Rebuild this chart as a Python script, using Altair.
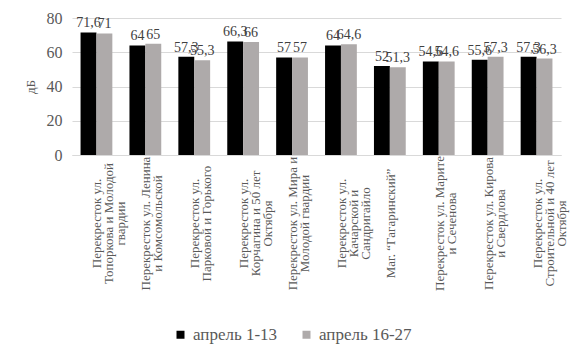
import altair as alt
import pandas as pd

categories = [
    "Перекресток ул.|Топоркова и Молодой|гвардии",
    "Перекресток ул. Ленина|и Комсомольской",
    "Перекресток ул.|Парковой и Горького",
    "Перекресток ул.|Корчагина и 50 лет|Октября",
    "Перекресток ул. Мира и|Молодой гвардии",
    "Перекресток ул.|Качарской и|Сандригайло",
    "Маг. \u201cГагаринский\u201d",
    "Перекресток ул. Марите|и Сеченова",
    "Перекресток ул. Кирова|и Свердлова",
    "Перекресток ул.|Строительной и 40 лет|Октября",
]
series_names = ["апрель 1-13", "апрель 16-27"]
april_1_13 = [71.6, 64, 57.3, 66.3, 57, 64, 52, 54.6, 55.6, 57.3]
april_16_27 = [71, 65, 55.3, 66, 57, 64.6, 51.3, 54.6, 57.3, 56.3]
colors = ["#000000", "#AEAAAA"]

rows = []
for c, a, b in zip(categories, april_1_13, april_16_27):
    rows.append({"cat": c, "series": series_names[0], "value": a})
    rows.append({"cat": c, "series": series_names[1], "value": b})
df = pd.DataFrame(rows)
df["label"] = df["value"].map(lambda v: (f"{v:g}").replace(".", ","))

FONT = "Liberation Serif"
GRAY_TXT = "#595959"

x_axis = alt.Axis(
    title=None,
    labelAngle=270,
    labelAlign="center",
    labelBaseline="middle",
    labelPadding=68,
    labelOffset=1,
    labelExpr="split(datum.label, '|')",
    labelFont=FONT,
    labelFontSize=13,
    labelLineHeight=12,
    labelColor=GRAY_TXT,
    labelOverlap=False,
    ticks=False,
    domainColor="#D9D9D9",
    labelLimit=300,
)
y_axis = alt.Axis(
    title="дБ",
    titleFont=FONT,
    titleFontSize=13,
    titleFontWeight="normal",
    titleColor=GRAY_TXT,
    titlePadding=9,
    values=[0, 20, 40, 60, 80],
    labelFont=FONT,
    labelFontSize=16,
    labelColor=GRAY_TXT,
    labelPadding=10,
    labelOverlap=False,
    ticks=False,
    domain=False,
    gridColor="#D9D9D9",
)
x_scale = alt.Scale(paddingInner=0.35, paddingOuter=0.175)
y_scale = alt.Scale(domain=[0, 80])
xoff = alt.XOffset("series:N", sort=series_names, scale=alt.Scale(paddingInner=0, paddingOuter=0))

bars = alt.Chart(df).mark_bar().encode(
    x=alt.X("cat:N", sort=categories, scale=x_scale, axis=x_axis),
    xOffset=xoff,
    y=alt.Y("value:Q", scale=y_scale, axis=y_axis),
    color=alt.Color(
        "series:N",
        sort=series_names,
        scale=alt.Scale(domain=series_names, range=colors),
        legend=alt.Legend(
            title=None,
            orient="none",
            direction="horizontal",
            legendX=100,
            legendY=308,
            symbolType="square",
            symbolSize=64,
            symbolStrokeWidth=0,
            labelFont=FONT,
            labelFontSize=17,
            labelColor=GRAY_TXT,
            labelOffset=4,
            columnPadding=20,
            padding=0,
        ),
    ),
)

texts = alt.Chart(df).mark_text(
    baseline="bottom", dy=-2, font=FONT, fontSize=14, color="#404040"
).encode(
    x=alt.X("cat:N", sort=categories, scale=x_scale, axis=x_axis),
    xOffset=xoff,
    y=alt.Y("value:Q", scale=y_scale, axis=y_axis),
    text="label:N",
)

chart = alt.layer(bars, texts).properties(
    width=489,
    height=137,
    autosize=alt.AutoSizeParams(type="none"),
    padding={"left": 64, "top": 10, "right": 9, "bottom": 190},
).configure(background="white", font=FONT).configure_view(stroke=None).configure_legend(
    labelFont=FONT
)

chart.save("out.html", embed_options={"renderer": "svg", "actions": False})
